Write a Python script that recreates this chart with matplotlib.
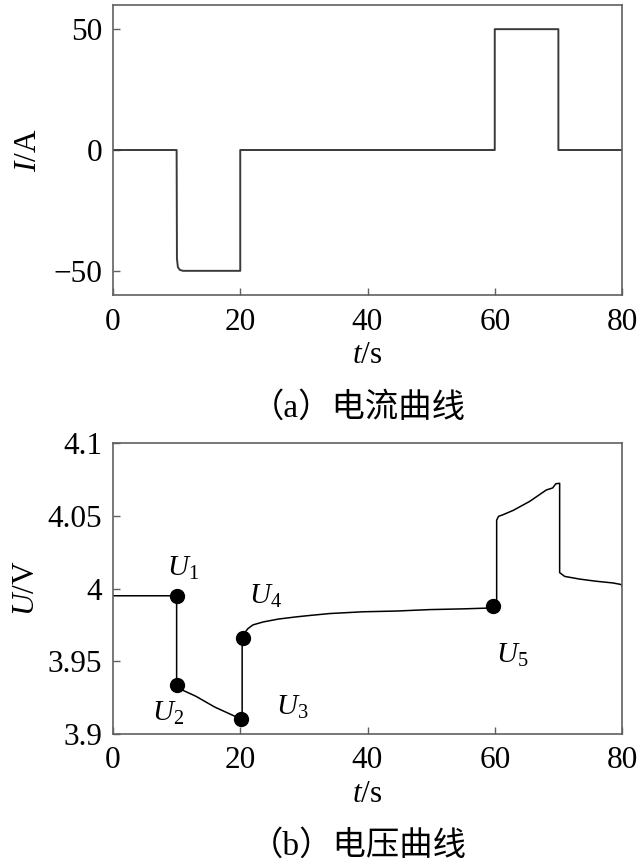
import matplotlib
matplotlib.use("Agg")
import matplotlib.pyplot as plt

# ---------- data ----------
# (a) current
t_i = [0, 10.0, 10.05, 10.2, 10.5, 11.0, 20.0, 20.0, 60.0, 60.0, 70.0, 70.0, 80.0]
cur = [0, 0, -45, -48.5, -49.6, -50, -50, 0, 0, 50, 50, 0, 0]

# (b) voltage
t_v = [0, 10.0, 10.0, 10.5, 11, 12, 13, 14, 15, 16, 17, 18, 19, 20.3,
       20.3, 20.6, 21.2, 22, 23.6, 26, 28.8, 31, 34.1, 39.3, 44.5, 49.8, 55, 58.7, 60.3,
       60.3, 60.6, 61.3, 62.9, 65.5, 68.1, 69.1, 69.6, 70.2,
       70.2, 71, 73.3, 75.9, 78.6, 79.9, 80]
volt = [3.995, 3.995, 3.9337, 3.932, 3.930, 3.928, 3.926, 3.9235, 3.921, 3.9185, 3.9165, 3.9145, 3.9125, 3.910,
        3.966, 3.969, 3.9724, 3.975, 3.977, 3.979, 3.9805, 3.9815, 3.9828, 3.984, 3.9845, 3.9855, 3.986, 3.9865, 3.988,
        4.047, 4.0496, 4.0507, 4.0537, 4.0599, 4.0677, 4.0691, 4.0720, 4.0723,
        4.0109, 4.0083, 4.0065, 4.005, 4.0038, 4.0027, 4.0015]

# marked points U1..U5
pt_names = ["$U_1$", "$U_2$", "$U_3$", "$U_4$", "$U_5$"]
pt_t = [10.0, 10.0, 20.1, 20.4, 59.7]
pt_u = [3.995, 3.9337, 3.910, 3.9658, 3.9878]
lab_t = [11.0, 8.6, 28.1, 24.0, 62.8]
lab_u = [4.014, 3.9144, 3.9186, 3.9948, 3.954]

x_ticks = [0, 20, 40, 60, 80]
i_ticks = [-50, 0, 50]
u_ticks = [3.9, 3.95, 4.0, 4.05, 4.1]
u_tick_labels = ["3.9", "3.95", "4", "4.05", "4.1"]

# ---------- style ----------
plt.rcParams['font.family'] = ['Liberation Serif', 'Noto Sans CJK SC']
plt.rcParams['mathtext.fontset'] = 'custom'
plt.rcParams['mathtext.rm'] = 'Liberation Serif'
plt.rcParams['mathtext.it'] = 'Liberation Serif:italic'
FS = 22.5
SPINE = '#606060'


def style_axes(ax):
    for s in ax.spines.values():
        s.set_color(SPINE)
        s.set_linewidth(1.2)
    ax.tick_params(direction='in', length=5, width=1.0, color=SPINE,
                   labelsize=FS)
    ax.tick_params(axis='y', pad=8)
    ax.tick_params(axis='x', pad=9)
    ax.set_xlim(0, 80)
    ax.set_xticks(x_ticks)


fig = plt.figure(figsize=(6.43, 8.64), dpi=100)
left, width = 113 / 643, 509 / 643
ax1 = fig.add_axes([left, 1 - 295 / 864, width, 290 / 864])
ax2 = fig.add_axes([left, 1 - 734 / 864, width, 291 / 864])

# (a) current curve
ax1.plot(t_i, cur, color='#3a3a3a', lw=1.4)
style_axes(ax1)
ax1.set_ylim(-60, 60)
ax1.set_yticks(i_ticks)
ax1.set_xlabel("$t$/s", fontsize=FS, labelpad=3)
ax1.set_ylabel("$I$/A", fontsize=FS, labelpad=7)

# (b) voltage curve
ax2.plot(t_v, volt, color='black', lw=1.1)
ax2.plot(pt_t, pt_u, 'o', color='black', markersize=10)
for name, x, y in zip(pt_names, lab_t, lab_u):
    ax2.text(x, y, name, fontsize=21, ha='center', va='center')
style_axes(ax2)
ax2.set_ylim(3.9, 4.1)
ax2.set_yticks(u_ticks)
ax2.set_yticklabels(u_tick_labels)
ax2.set_xlabel("$t$/s", fontsize=FS, labelpad=3)
ax2.set_ylabel("$U$/V", fontsize=FS, labelpad=4.5)

# captions
fig.text(358 / 643, 1 - 408 / 864, "（a）电流曲线", fontsize=24, ha='center', va='center')
fig.text(358 / 643, 1 - 846 / 864, "（b）电压曲线", fontsize=24, ha='center', va='center')

fig.savefig("out.png", dpi=100)
